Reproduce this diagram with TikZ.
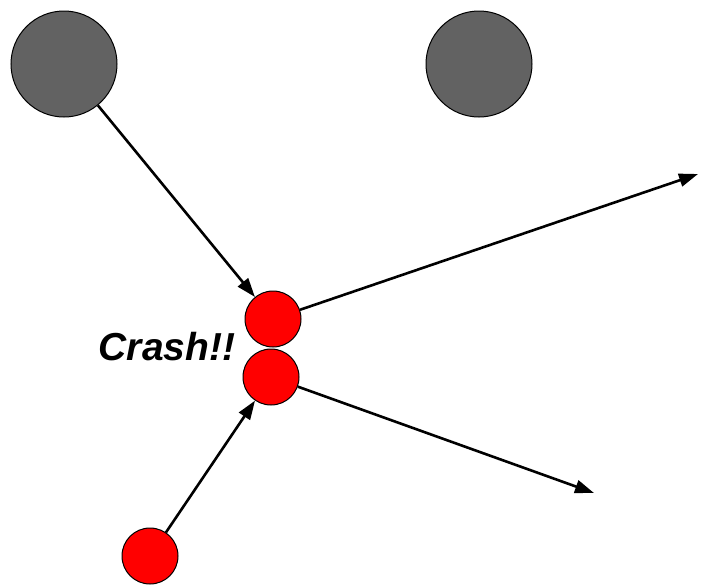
\documentclass[tikz,border=0pt]{standalone}
\usepackage{fontspec}
\setmainfont{Liberation Sans}
\usetikzlibrary{arrows.meta}
\begin{document}
\begin{tikzpicture}[x=1pt,y=-1pt,
  ball/.style={circle,draw=black,line width=1pt,inner sep=0pt},
  grayball/.style={ball,fill={rgb,255:red,98;green,98;blue,98},minimum size=106pt},
  redball/.style={ball,fill=red,minimum size=56pt},
  motion/.style={line width=2.6pt,-{Triangle[length=19pt,width=13pt]}}]
\useasboundingbox (0,0) rectangle (710,587);
\node[grayball] (g1) at (64,64) {};
\node[grayball] (g2) at (479,64) {};
\node[redball] (r1) at (273,319) {};
\node[redball] (r2) at (271,377) {};
\node[redball] (r3) at (150,556) {};
\coordinate (e1) at (698,174);
\coordinate (e2) at (594,493);
\node[anchor=base,font=\fontsize{39}{44}\selectfont\bfseries\itshape,inner sep=0pt] (t) at (167,360) {Crash!!};
\draw[motion] (g1) -- (r1);
\draw[motion] (r1) -- (e1);
\draw[motion] (r2) -- (e2);
\draw[motion] (r3) -- (r2);
\end{tikzpicture}
\end{document}
